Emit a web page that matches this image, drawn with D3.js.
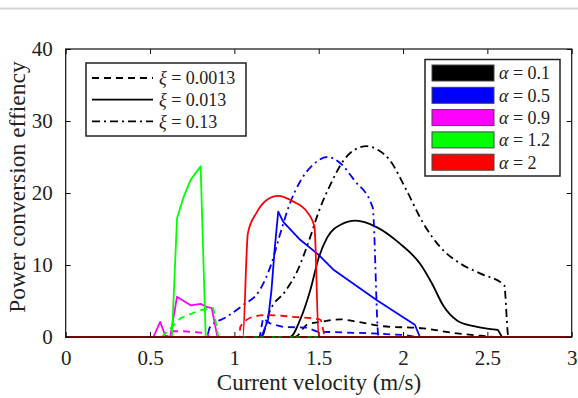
<!DOCTYPE html>
<html>
<head>
<meta charset="utf-8">
<script src="https://cdn.jsdelivr.net/npm/d3@7/dist/d3.min.js"></script>
<style>
  html, body { margin: 0; padding: 0; background: #fff; }
  svg { display: block; }
  text { font-family: "Liberation Serif", "Times New Roman", serif; fill: #222; }
</style>
</head>
<body>
<svg id="chart" width="578" height="398"></svg>
<script>
// ---------- data ----------
const xTicks = [0, 0.5, 1, 1.5, 2, 2.5, 3];
const xTickLabels = ["0", "0.5", "1", "1.5", "2", "2.5", "3"];
const yTicks = [0, 10, 20, 30, 40];
const yTickLabels = ["0", "10", "20", "30", "40"];

const alphaLabels = ["0.1", "0.5", "0.9", "1.2", "2"];
const alphaColors = ["#000000", "#0000ff", "#ff00ff", "#00ff00", "#ff0000"];
const xiLabels = ["0.0013", "0.013", "0.13"];

// [velocity (m/s), power conversion efficiency]
// alpha = 0.1
const a01_xi0013 = [[0,0],[1.36,0],[1.43,1.7],[1.51,2.1],[1.63,2.45],[1.73,2.1],[1.88,1.5],[2.12,1.2],[2.32,0.5],[2.5,0.1],[2.55,0],[3,0]];
const a01_xi013  = [[0,0],[1.33,0],[1.39,2.4],[1.45,6.5],[1.5,11.0],[1.55,13.8],[1.63,15.6],[1.72,16.15],[1.84,15.3],[1.98,13.0],[2.1,10.2],[2.17,7.5],[2.24,4.3],[2.32,2.3],[2.42,1.5],[2.52,1.1],[2.56,1.0],[2.59,0],[3,0]];
const a01_xi013b = [[0,0],[1.16,0],[1.21,3.6],[1.3,6.3],[1.37,9.0],[1.45,13.9],[1.5,17.4],[1.57,21.2],[1.65,24.6],[1.72,26.1],[1.785,26.5],[1.85,26.0],[1.92,24.6],[2.02,20.4],[2.12,15.8],[2.22,12.5],[2.34,10.2],[2.46,8.8],[2.6,7.2],[2.625,0],[3,0]];
// alpha = 0.5
const a05_xi0013 = [[0,0],[1.15,0],[1.17,2.6],[1.21,1.9],[1.29,1.4],[1.43,1.3],[1.49,0.75],[1.82,0.5],[2.02,0.25],[2.08,0],[3,0]];
const a05_xi013  = [[0,0],[1.16,0],[1.2,2.4],[1.22,6.5],[1.24,12.5],[1.26,17.4],[1.29,16.0],[1.39,13.5],[1.5,11.4],[1.59,9.3],[1.845,5.1],[1.98,3.05],[2.07,1.7],[2.1,0],[3,0]];
const a05_xi013b = [[0,0],[0.835,0],[0.856,1.4],[0.955,2.8],[1.05,4.4],[1.15,6.5],[1.22,10.2],[1.27,14.2],[1.33,18.6],[1.39,21.6],[1.47,24.0],[1.55,25.0],[1.63,24.1],[1.71,21.8],[1.82,18.0],[1.855,0],[3,0]];
// alpha = 0.9
const a09_xi0013 = [[0,0],[0.6,0],[0.63,0.8],[0.7,0.8],[0.8,0.6],[0.84,0.4],[0.85,0],[3,0]];
const a09_xi013  = [[0,0],[0.52,0],[0.56,2.1],[0.59,0.2],[0.62,0],[0.66,5.6],[0.74,4.4],[0.8,4.6],[0.835,4.2],[0.866,4.0],[0.895,0.5],[0.9,0],[3,0]];
const a09_xi013b = [[0,0],[3,0]];
// alpha = 1.2
const a12_xi0013 = [[0,0],[0.57,0],[0.6,0.7],[0.68,2.6],[0.8,3.75],[0.875,4.0],[0.905,0],[3,0]];
const a12_xi013  = [[0,0],[0.63,0],[0.66,16.5],[0.7,19.5],[0.74,21.8],[0.8,23.7],[0.83,0],[3,0]];
const a12_xi013b = [[0,0],[3,0]];
// alpha = 2
const a2_xi0013 = [[0,0],[1.03,0],[1.035,1.4],[1.11,2.8],[1.19,3.05],[1.35,2.8],[1.49,2.5],[1.51,2.4],[1.54,0],[3,0]];
const a2_xi013  = [[0,0],[1.05,0],[1.08,14.4],[1.13,17.2],[1.19,19.0],[1.26,19.6],[1.35,18.8],[1.43,17.4],[1.475,15.3],[1.5,0],[3,0]];
const a2_xi013b = [[0,0],[3,0]];

const seriesData = [
  [a01_xi0013, a01_xi013, a01_xi013b],
  [a05_xi0013, a05_xi013, a05_xi013b],
  [a09_xi0013, a09_xi013, a09_xi013b],
  [a12_xi0013, a12_xi013, a12_xi013b],
  [a2_xi0013,  a2_xi013,  a2_xi013b]
];

// ---------- drawing ----------
(function () {
const svg = d3.select("#chart");
const dashes = ["7,5", null, "8,4,2,4"];
// which curves are drawn smoothly (rendering choice only)
const smooth = [[true, true, true], [false, false, true], [false, false, false], [false, false, false], [true, true, false]];

svg.append("line").attr("x1", 0).attr("x2", 578).attr("y1", 8.5).attr("y2", 8.5)
  .attr("stroke", "#d6d6d6").attr("stroke-width", 2);

const mL = 65.7, mR = 571.7, mT = 49, mB = 337;
const x = d3.scaleLinear().domain([0, 3]).range([mL, mR]);
const y = d3.scaleLinear().domain([0, 40]).range([mB, mT]);

const lineStraight = d3.line().x(d => x(d[0])).y(d => y(d[1]));
const lineSmooth = d3.line().x(d => x(d[0])).y(d => y(d[1])).curve(d3.curveMonotoneX);

const plot = svg.append("g");
seriesData.forEach((group, ai) => {
  group.forEach((pts, xi) => {
    const gen = smooth[ai][xi] ? lineSmooth : lineStraight;
    plot.append("path")
      .attr("d", gen(pts))
      .attr("fill", "none")
      .attr("stroke", alphaColors[ai])
      .attr("stroke-width", 1.8)
      .attr("stroke-linejoin", "round")
      .attr("stroke-dasharray", dashes[xi]);
  });
});

svg.append("rect").attr("x", mL).attr("y", mT)
  .attr("width", mR - mL).attr("height", mB - mT)
  .attr("fill", "none").attr("stroke", "#111").attr("stroke-width", 1.2);

const xAxis = d3.axisBottom(x).tickValues(xTicks)
  .tickFormat((d, i) => xTickLabels[i]).tickSizeInner(-5).tickSizeOuter(0).tickPadding(13);
const gx = svg.append("g").attr("transform", `translate(0,${mB})`).call(xAxis);
gx.select(".domain").remove();
gx.selectAll("line").attr("stroke", "#111");
gx.selectAll("text").attr("font-size", 21).attr("font-family", "Liberation Serif, serif").attr("fill", "#222");

const xAxisTop = d3.axisTop(x).tickValues(xTicks).tickFormat("").tickSizeInner(-5).tickSizeOuter(0);
const gxt = svg.append("g").attr("transform", `translate(0,${mT})`).call(xAxisTop);
gxt.select(".domain").remove();
gxt.selectAll("line").attr("stroke", "#111");

const yAxis = d3.axisLeft(y).tickValues(yTicks)
  .tickFormat((d, i) => yTickLabels[i]).tickSizeInner(-5).tickSizeOuter(0).tickPadding(13);
const gy = svg.append("g").attr("transform", `translate(${mL},0)`).call(yAxis);
gy.select(".domain").remove();
gy.selectAll("line").attr("stroke", "#111");
gy.selectAll("text").attr("font-size", 21).attr("font-family", "Liberation Serif, serif").attr("fill", "#222");

const yAxisRight = d3.axisRight(y).tickValues(yTicks).tickFormat("").tickSizeInner(-5).tickSizeOuter(0);
const gyr = svg.append("g").attr("transform", `translate(${mR},0)`).call(yAxisRight);
gyr.select(".domain").remove();
gyr.selectAll("line").attr("stroke", "#111");

svg.append("text").attr("x", 319).attr("y", 390)
  .attr("text-anchor", "middle").attr("font-size", 23).text("Current velocity (m/s)");
svg.append("text").attr("transform", `translate(25,187) rotate(-90)`)
  .attr("text-anchor", "middle").attr("font-size", 23.5).text("Power conversion effiency");

const lg1 = svg.append("g");
lg1.append("rect").attr("x", 86).attr("y", 63).attr("width", 160).attr("height", 73)
  .attr("fill", "#fff").attr("stroke", "#222").attr("stroke-width", 1.5);
xiLabels.forEach((lab, i) => {
  const cy = 78 + i * 21.7;
  lg1.append("line").attr("x1", 92).attr("x2", 153).attr("y1", cy).attr("y2", cy)
    .attr("stroke", "#000").attr("stroke-width", 1.8).attr("stroke-dasharray", dashes[i]);
  const t = lg1.append("text").attr("x", 159).attr("y", cy).attr("dy", "0.35em").attr("font-size", 18);
  t.append("tspan").attr("font-style", "italic").text("ξ");
  t.append("tspan").text(" = " + lab);
});

const lg2 = svg.append("g");
lg2.append("rect").attr("x", 425).attr("y", 59.5).attr("width", 135).attr("height", 116.5)
  .attr("fill", "#fff").attr("stroke", "#222").attr("stroke-width", 1.5);
alphaLabels.forEach((lab, i) => {
  const ty = 65 + i * 22.3;
  lg2.append("rect").attr("x", 432).attr("y", ty).attr("width", 62).attr("height", 16)
    .attr("fill", alphaColors[i]).attr("stroke", "#444").attr("stroke-width", 1);
  const t = lg2.append("text").attr("x", 499).attr("y", ty + 8).attr("dy", "0.35em").attr("font-size", 18);
  t.append("tspan").attr("font-style", "italic").text("α");
  t.append("tspan").text(" = " + lab);
});
})();
</script>
</body>
</html>
